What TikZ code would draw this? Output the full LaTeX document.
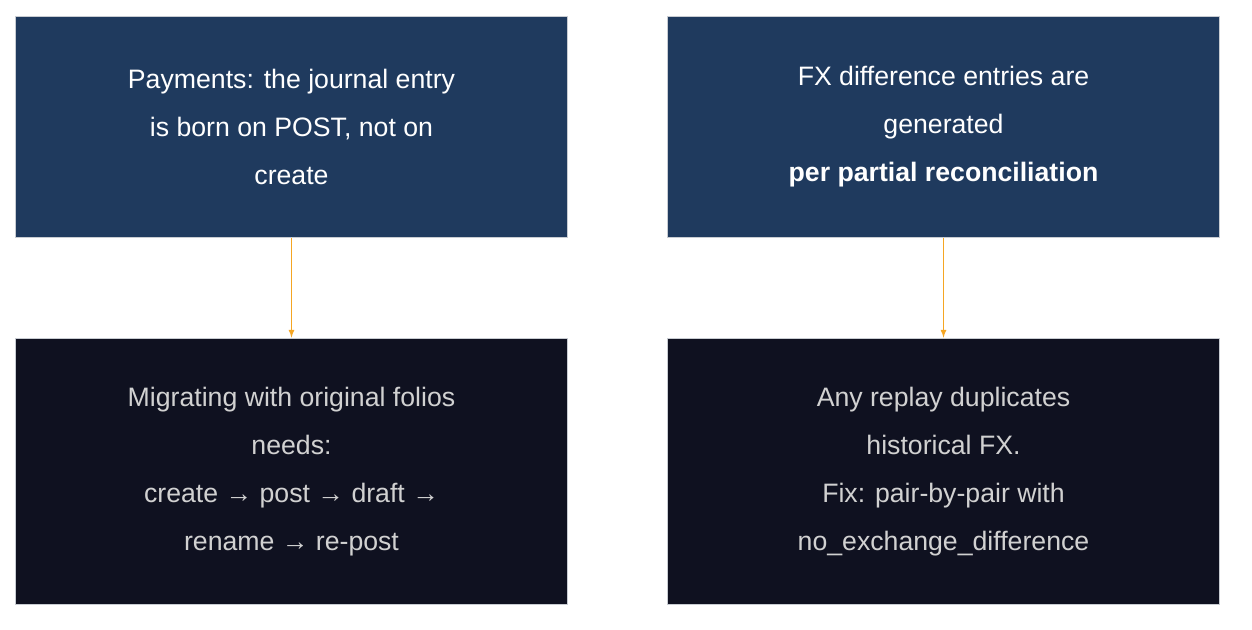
\documentclass[tikz,border=0pt]{standalone}
\usepackage{fontspec}
\setmainfont{Liberation Sans}
\usetikzlibrary{positioning}
\definecolor{topblue}{HTML}{1F3A5E}
\definecolor{darkbox}{HTML}{0F1120}
\definecolor{edgegray}{HTML}{C8CCD2}
\definecolor{arroworange}{HTML}{F5A623}
\tikzset{
    box/.style={draw=edgegray, line width=0.8pt, minimum width=414pt, minimum height=166pt, align=center, font=\fontsize{20}{36}\selectfont},
    upper/.style={box, fill=topblue, text=white},
    lower/.style={box, fill=darkbox, text=white!82!black, minimum height=200pt},
    flow/.style={-latex, arroworange, line width=1pt}
}
\begin{document}
\begin{tikzpicture}[x=0.75pt, y=-0.75pt]
    \useasboundingbox (0, 0) rectangle (1252, 630);
    \node[upper] (pay) at (291.5, 127) {Payments: the journal entry\\is born on POST, not on\\create};
    \node[upper] (fx) at (943.5, 127) {FX difference entries are\\generated\\\textbf{per partial reconciliation}};
    \node[lower] (mig) at (291.5, 471.5) {Migrating with original folios\\needs:\\create → post → draft →\\rename → re-post};
    \node[lower] (rep) at (943.5, 471.5) {Any replay duplicates\\historical FX.\\Fix: pair-by-pair with\\no\_exchange\_difference};
    \draw[flow] (pay) -- (mig);
    \draw[flow] (fx) -- (rep);
\end{tikzpicture}
\end{document}
